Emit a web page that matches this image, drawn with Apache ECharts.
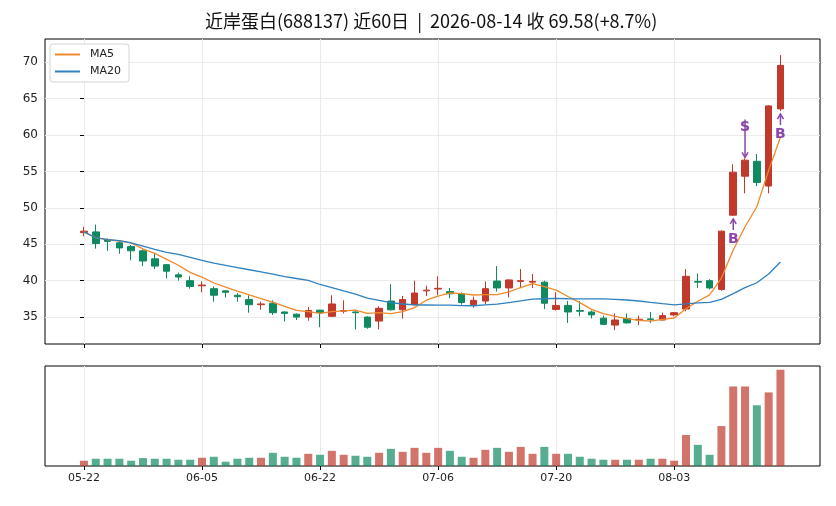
<!DOCTYPE html>
<html>
<head>
<meta charset="utf-8">
<script src="https://cdn.jsdelivr.net/npm/echarts@6/dist/echarts.min.js"></script>
<style>
  html, body { margin: 0; padding: 0; background: #fff; }
  #chart { width: 836px; height: 506px; }
</style>
</head>
<body>
<div id="chart"></div>
<script>
// trading days (near 60 sessions)
const dates = [
  "05-22", "05-25", "05-26", "05-27", "05-28", "05-29", "06-01", "06-02", "06-03", "06-04",
  "06-05", "06-08", "06-09", "06-10", "06-11", "06-12", "06-15", "06-16", "06-17", "06-18",
  "06-22", "06-23", "06-24", "06-25", "06-26", "06-29", "06-30", "07-01", "07-02", "07-03",
  "07-06", "07-07", "07-08", "07-09", "07-10", "07-13", "07-14", "07-15", "07-16", "07-17",
  "07-20", "07-21", "07-22", "07-23", "07-24", "07-27", "07-28", "07-29", "07-30", "07-31",
  "08-03", "08-04", "08-05", "08-06", "08-07", "08-10", "08-11", "08-12", "08-13", "08-14"
];
const opens = [
  46.6, 46.7, 45.6, 45.2, 44.7, 44.1, 43.0, 42.2, 40.8, 40.0,
  39.3, 38.9, 38.6, 38.0, 37.4, 36.7, 36.9, 35.7, 35.4, 35.0,
  35.95, 35.1, 35.8, 35.7, 35.0, 34.45, 37.2, 36.0, 36.7, 38.6,
  38.85, 38.5, 38.2, 36.7, 37.2, 39.95, 39.0, 39.9, 39.8, 39.8,
  36.05, 36.6, 35.9, 35.7, 34.85, 33.9, 34.8, 34.6, 34.75, 34.6,
  35.3, 36.1, 39.9, 40.0, 38.8, 49.0, 54.35, 56.4, 53.0, 63.6
];
const closes = [
  46.8, 45.1, 45.4, 44.5, 44.1, 42.7, 42.0, 41.3, 40.5, 39.2,
  39.4, 38.0, 38.4, 37.8, 36.7, 36.8, 35.6, 35.5, 35.0, 35.9,
  35.6, 36.8, 35.9, 35.6, 33.6, 36.2, 36.0, 37.4, 38.3, 38.7,
  38.95, 38.2, 37.0, 37.3, 38.9, 39.0, 40.1, 40.0, 39.9, 36.9,
  36.6, 35.7, 35.8, 35.3, 34.0, 34.6, 34.2, 34.7, 34.65, 35.2,
  35.6, 40.6, 39.8, 39.0, 46.8, 54.9, 56.55, 53.5, 64.01, 69.58
];
const lows = [
  46.1, 44.4, 44.1, 43.7, 42.8, 42.0, 41.6, 40.3, 40.0, 38.9,
  38.4, 37.1, 37.7, 37.1, 35.6, 36.0, 35.3, 34.4, 34.6, 34.5,
  33.6, 35.0, 35.5, 33.3, 33.4, 33.3, 35.9, 34.8, 36.6, 37.9,
  38.0, 37.6, 36.7, 36.3, 36.8, 38.5, 37.7, 39.0, 39.0, 36.1,
  35.9, 34.2, 35.1, 34.8, 33.9, 33.2, 34.1, 33.9, 34.2, 34.5,
  35.1, 35.8, 39.0, 38.8, 38.6, 48.9, 52.0, 53.0, 52.0, 63.3
];
const highs = [
  47.4, 47.7, 45.8, 45.5, 44.9, 44.3, 43.8, 42.3, 41.1, 40.6,
  39.9, 39.2, 38.7, 38.3, 38.0, 37.1, 37.3, 35.8, 35.5, 36.4,
  36.0, 38.0, 37.3, 35.8, 35.1, 36.5, 39.5, 37.9, 40.0, 39.3,
  40.6, 39.0, 38.4, 37.8, 39.9, 42.0, 40.2, 41.6, 40.9, 40.0,
  38.4, 37.2, 37.2, 35.9, 35.2, 35.5, 35.5, 35.2, 35.7, 35.6,
  35.7, 41.6, 41.0, 40.2, 46.9, 56.0, 56.8, 57.4, 64.1, 71.0
];
const volumes = [
  16, 22, 22, 22, 16, 24, 22, 22, 19, 19,
  25, 28, 13, 22, 25, 25, 40, 28, 25, 37,
  34, 46, 34, 31, 28, 40, 52, 43, 55, 40,
  55, 46, 28, 25, 49, 55, 43, 58, 37, 58,
  37, 37, 28, 22, 19, 19, 19, 19, 22, 22,
  16, 94, 64, 34, 121, 241, 241, 184, 223, 292
];
// MA values before enough closes are inside the window
const ma5Head = [46.7, 45.9, 45.65, 45.45];
const ma20Head = [
  46.7, 45.9, 45.65, 45.5, 45.2, 44.75, 44.3, 43.9, 43.6, 43.2,
  42.8, 42.4, 42.1, 41.8, 41.5, 41.2, 40.9, 40.55, 40.3
];
const dateTicks = [0, 10, 20, 30, 40, 50];
const priceTicks = [35, 40, 45, 50, 55, 60, 65, 70];
const signals = [[55, "B"], [56, "S"], [59, "B"]];

const upColor = "#c0392b";
const downColor = "#0f8a5f";
const signalColor = "#8e44ad";
const font = "DejaVu Sans, Noto Sans CJK SC, sans-serif";

function movingAvg(n, head) {
    return closes.map((c, i) => {
        if (i < n - 1) return [i, head[i]];
        let sum = 0;
        for (let k = i - n + 1; k <= i; k++) sum += closes[k];
        return [i, +(sum / n).toFixed(3)];
    });
}

const candleData = opens.map((o, i) => [i, o, closes[i], lows[i], highs[i]]);
const volumeData = volumes.map((v, i) => ({
    value: [i, v],
    itemStyle: { color: closes[i] >= opens[i] ? upColor : downColor, opacity: 0.7 }
}));
const signalData = signals.map(([i, kind]) => [i, kind === "B" ? lows[i] : highs[i]]);

function renderSignal(params, api) {
    const kind = signals[params.dataIndex][1];
    const pt = api.coord([api.value(0), api.value(1)]);
    const x = pt[0];
    const line = { stroke: signalColor, lineWidth: 1.5, fill: null };
    const txt = (y, t) => ({
        type: "text", x: x, y: y,
        style: { text: t, fill: signalColor, fontSize: 14, fontWeight: "bold", fontFamily: font, align: "center", verticalAlign: "middle" }
    });
    if (kind === "B") {
        const tip = pt[1] + 3;
        const textY = pt[1] + 23;
        return { type: "group", children: [
            { type: "line", shape: { x1: x, y1: textY - 9, x2: x, y2: tip }, style: line },
            { type: "polyline", shape: { points: [[x - 3, tip + 5], [x, tip], [x + 3, tip + 5]] }, style: line },
            txt(textY, "B")
        ] };
    }
    const tip = pt[1] - 1;
    const textY = pt[1] - 31;
    return { type: "group", children: [
        txt(textY, "S"),
        { type: "line", shape: { x1: x, y1: textY - 8, x2: x, y2: tip }, style: line },
        { type: "polyline", shape: { points: [[x - 3, tip - 5], [x, tip], [x + 3, tip - 5]] }, style: line }
    ] };
}

const chart = echarts.init(document.getElementById("chart"));

const xBase = (grid, showLabel) => ({
    type: "value",
    gridIndex: grid,
    min: -3.3,
    max: 62.35,
    axisLine: { show: false },
    axisTick: { show: true, length: 4, customValues: dateTicks, lineStyle: { color: "#000" } },
    axisLabel: {
        show: showLabel, customValues: dateTicks, margin: 7,
        fontSize: 11, color: "#222", fontFamily: font,
        formatter: (v) => dates[v] || ""
    },
    splitLine: { show: true, lineStyle: { color: "#ebebeb", width: 1 } }
});

chart.setOption({
    animation: false,
    backgroundColor: "#fff",
    textStyle: { fontFamily: font },
    title: {
        text: "近岸蛋白(688137) 近60日  |  2026-08-14 收 69.58(+8.7%)",
        left: 205,
        top: 12,
        padding: 0,
        textStyle: { fontSize: 18, fontWeight: "normal", color: "#111", fontFamily: "Noto Sans CJK SC" }
    },
    legend: {
        data: [
            { name: "MA5", icon: "rect" },
            { name: "MA20", icon: "rect" }
        ],
        orient: "vertical",
        left: 50,
        top: 44,
        itemWidth: 25,
        itemHeight: 2,
        itemGap: 6,
        padding: [5, 8, 5, 5],
        borderColor: "#d4d4d4",
        borderWidth: 1,
        borderRadius: 3,
        backgroundColor: "#fff",
        textStyle: { fontSize: 11, color: "#222", fontFamily: font, padding: [0, 0, 0, 5] }
    },
    grid: [
        { left: 45, top: 39, width: 775, height: 305, show: true, borderColor: "#000", borderWidth: 1, backgroundColor: "transparent" },
        { left: 45, top: 366, width: 775, height: 100, show: true, borderColor: "#000", borderWidth: 1, backgroundColor: "transparent" }
    ],
    xAxis: [xBase(0, false), xBase(1, true)],
    yAxis: [
        {
            type: "value",
            gridIndex: 0,
            min: 31.3,
            max: 73.2,
            axisLine: { show: false },
            axisTick: { show: true, length: 4, customValues: priceTicks, lineStyle: { color: "#000" } },
            axisLabel: { customValues: priceTicks, fontSize: 12, color: "#222", margin: 7, fontFamily: font },
            splitLine: { show: true, lineStyle: { color: "#ebebeb", width: 1 } }
        },
        {
            type: "value",
            gridIndex: 1,
            min: 0,
            max: 303,
            axisLine: { show: false },
            axisTick: { show: false },
            axisLabel: { show: false },
            splitLine: { show: false }
        }
    ],
    series: [
        {
            name: "K",
            type: "candlestick",
            xAxisIndex: 0,
            yAxisIndex: 0,
            data: candleData,
            encode: { x: 0, y: [1, 2, 3, 4] },
            barWidth: 7,
            itemStyle: {
                color: upColor,
                color0: downColor,
                borderColor: upColor,
                borderColor0: downColor,
                borderWidth: 1
            }
        },
        {
            name: "MA5",
            type: "line",
            xAxisIndex: 0,
            yAxisIndex: 0,
            data: movingAvg(5, ma5Head),
            showSymbol: false,
            color: "#ef8a2b",
            lineStyle: { width: 1.3 },
            z: 5
        },
        {
            name: "MA20",
            type: "line",
            xAxisIndex: 0,
            yAxisIndex: 0,
            data: movingAvg(20, ma20Head),
            showSymbol: false,
            color: "#2f80c0",
            lineStyle: { width: 1.3 },
            z: 5
        },
        {
            name: "VOL",
            type: "bar",
            xAxisIndex: 1,
            yAxisIndex: 1,
            data: volumeData,
            barWidth: 8
        },
        {
            name: "signal",
            type: "custom",
            xAxisIndex: 0,
            yAxisIndex: 0,
            data: signalData,
            encode: { x: 0, y: 1 },
            renderItem: renderSignal,
            z: 10
        }
    ]
});
</script>
</body>
</html>
